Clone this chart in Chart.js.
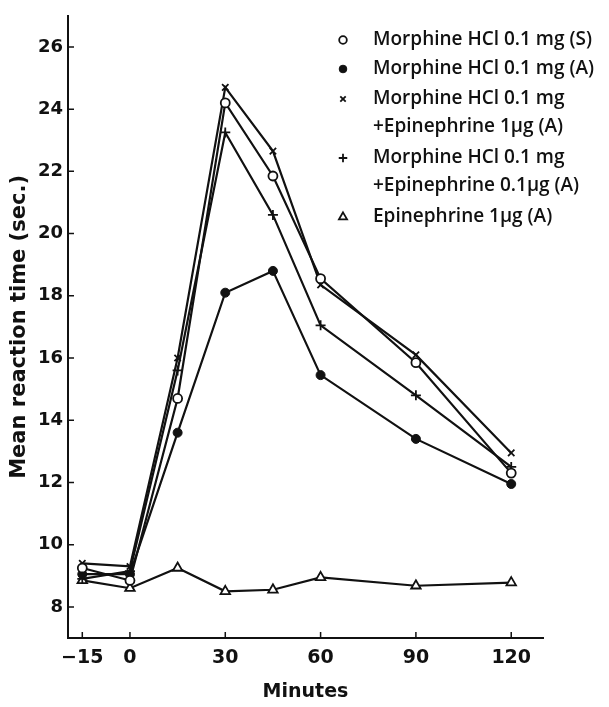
<!DOCTYPE html>
<html>
<head>
<meta charset="utf-8">
<script src="https://cdn.jsdelivr.net/npm/chart.js@4.4.0/dist/chart.umd.min.js"></script>
<style>
  html, body { margin: 0; padding: 0; background: #fff; }
  #wrap { position: relative; width: 609px; height: 707px; }
</style>
</head>
<body>
<div id="wrap"><canvas id="chart" width="609" height="707"></canvas></div>
<script>
'use strict';

const minutes = [-15, 0, 15, 30, 45, 60, 90, 120];
const xTicks = [-15, 0, 30, 60, 90, 120];
const yTicks = [8, 10, 12, 14, 16, 18, 20, 22, 24, 26];

const morphineS   = [9.25, 8.85, 14.7, 24.2, 21.85, 18.55, 15.85, 12.3];
const morphineA   = [9.05, 9.05, 13.6, 18.1, 18.8, 15.45, 13.4, 11.95];
const morphEpi1   = [9.4, 9.3, 16.0, 24.7, 22.65, 18.35, 16.1, 12.95];
const morphEpi01  = [8.9, 9.15, 15.6, 23.25, 20.6, 17.05, 14.8, 12.5];
const epi1        = [8.85, 8.6, 9.25, 8.5, 8.55, 8.95, 8.68, 8.78];

const legendRows = [
  { lines: ['Morphine HCl 0.1 mg (S)'], style: 'openCircle' },
  { lines: ['Morphine HCl 0.1 mg (A)'], style: 'dot' },
  { lines: ['Morphine HCl 0.1 mg', '+Epinephrine 1\u00b5g (A)'], style: 'x' },
  { lines: ['Morphine HCl 0.1 mg', '+Epinephrine 0.1\u00b5g (A)'], style: 'plus' },
  { lines: ['Epinephrine 1\u00b5g (A)'], style: 'triangle' },
];

const INK = '#111';
const FONT = '"DejaVu Sans", sans-serif';

const markers = {
  openCircle: { pointStyle: 'circle',   radius: 4.5, fill: '#fff', borderWidth: 1.8 },
  dot:        { pointStyle: 'circle',   radius: 4.5, fill: INK,    borderWidth: 1 },
  x:          { pointStyle: 'crossRot', radius: 4.5, fill: INK,    borderWidth: 1.8 },
  plus:       { pointStyle: 'cross',    radius: 5,   fill: INK,    borderWidth: 1.8 },
  triangle:   { pointStyle: 'triangle', radius: 5.5, fill: '#fff', borderWidth: 1.8 },
};

const pts = vals => minutes.map((m, i) => ({ x: m, y: vals[i] }));

function series(label, vals, style) {
  const m = markers[style];
  return {
    label, data: pts(vals),
    borderColor: INK, borderWidth: 2.2, backgroundColor: m.fill,
    pointStyle: m.pointStyle, pointRadius: m.radius,
    pointBorderWidth: m.borderWidth, pointBorderColor: INK, pointBackgroundColor: m.fill,
    tension: 0,
  };
}

/* inward tick marks + custom legend */
const decor = {
  id: 'decor',
  afterDraw(chart) {
    const { ctx, chartArea: a, scales: { x, y } } = chart;
    ctx.save();
    ctx.strokeStyle = INK;
    ctx.lineWidth = 1.5;
    ctx.beginPath();
    yTicks.forEach(v => { const py = y.getPixelForValue(v); ctx.moveTo(a.left, py); ctx.lineTo(a.left + 6, py); });
    xTicks.forEach(v => { const px = x.getPixelForValue(v); ctx.moveTo(px, a.bottom); ctx.lineTo(px, a.bottom - 6); });
    ctx.stroke();

    // legend
    const mx = 343, tx = 373;
    const rowY = [40, 69, 99, 158, 217];
    ctx.font = '600 19px "Open Sans", sans-serif';
    ctx.textBaseline = 'middle';
    legendRows.forEach((r, i) => {
      const m = markers[r.style];
      ctx.fillStyle = m.fill;
      ctx.strokeStyle = INK;
      ctx.lineWidth = m.borderWidth;
      Chart.helpers.drawPoint(ctx, { pointStyle: m.pointStyle, radius: m.radius * 0.85, borderWidth: m.borderWidth, rotation: 0 }, mx, rowY[i]);
      ctx.fillStyle = INK;
      r.lines.forEach((t, k) => ctx.fillText(t, tx, rowY[i] + k * 28));
    });
    ctx.restore();
  }
};

new Chart(document.getElementById('chart'), {
  type: 'line',
  data: {
    datasets: [
      series('Morphine HCl 0.1 mg (S)', morphineS, 'openCircle'),
      series('Morphine HCl 0.1 mg (A)', morphineA, 'dot'),
      series('Morphine HCl 0.1 mg +Epinephrine 1\u00b5g (A)', morphEpi1, 'x'),
      series('Morphine HCl 0.1 mg +Epinephrine 0.1\u00b5g (A)', morphEpi01, 'plus'),
      series('Epinephrine 1\u00b5g (A)', epi1, 'triangle'),
    ],
  },
  options: {
    responsive: false, animation: false,
    layout: { padding: { top: 8, right: 66, left: 0, bottom: 0 } },
    plugins: { legend: { display: false }, tooltip: { enabled: false } },
    scales: {
      x: {
        type: 'linear', min: -19.5, max: 130,
        afterBuildTicks: s => { s.ticks = xTicks.map(v => ({ value: v })); },
        afterFit: s => { s.height = 69; },
        grid: { display: false, drawTicks: false },
        border: { display: true, color: INK, width: 2 },
        ticks: {
          color: INK, font: { family: FONT, size: 19, weight: 'bold' }, padding: 9, maxRotation: 0,
          callback: v => v < 0 ? '\u2212' + Math.abs(v) : String(v),
        },
        title: { display: true, text: 'Minutes', color: INK, font: { family: FONT, size: 19, weight: 'bold' }, padding: { top: 5 } },
      },
      y: {
        min: 7, max: 27,
        afterBuildTicks: s => { s.ticks = yTicks.map(v => ({ value: v })); },
        afterFit: s => { s.width = 68; },
        grid: { display: false, drawTicks: false },
        border: { display: true, color: INK, width: 2 },
        ticks: { color: INK, font: { family: FONT, size: 18, weight: 'bold' }, padding: 5 },
        title: { display: true, text: 'Mean reaction time (sec.)', color: INK, font: { family: FONT, size: 21, weight: 'bold' }, padding: { bottom: 0, top: 7 } },
      },
    },
  },
  plugins: [decor],
});
</script>
</body>
</html>
